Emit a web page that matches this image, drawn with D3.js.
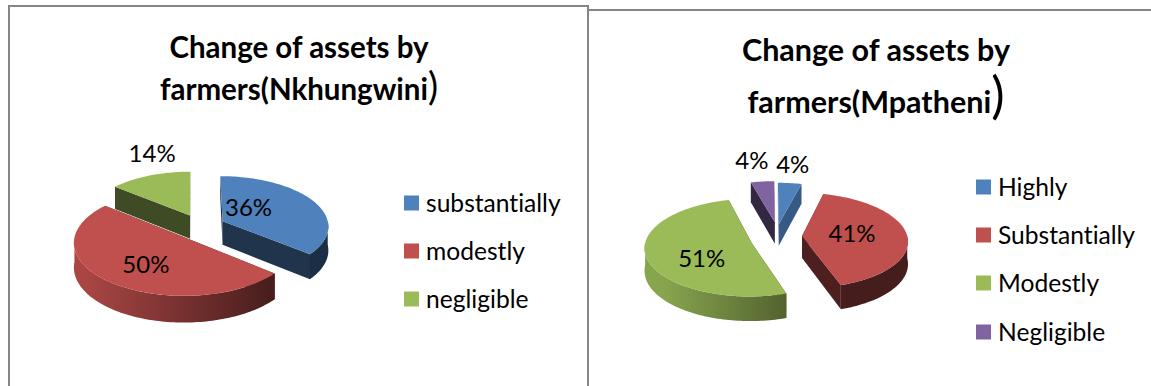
<!DOCTYPE html>
<html>
<head>
<meta charset="utf-8">
<script src="https://cdn.jsdelivr.net/npm/d3@7"></script>
<style>
html,body{margin:0;padding:0;background:#fff;overflow:hidden}
svg{display:block}
text{font-family:Lato,"Open Sans",sans-serif;fill:#000;font-variant-ligatures:none}
</style>
</head>
<body>
<svg id="c" width="1151" height="386"></svg>
<script>
// data
const leftCategories = ["substantially", "modestly", "negligible"];
const leftValues = [36, 50, 14];
const rightCategories = ["Highly", "Substantially", "Modestly", "Negligible"];
const rightValues = [4, 41, 51, 4];
const leftTitle = ["Change of assets by", "farmers(Nkhungwini"];
const rightTitle = ["Change of assets by", "farmers(Mpatheni"];
const leftColors = ["#4f81bd", "#c0504d", "#9bbb59"];
const rightColors = ["#4f81bd", "#c0504d", "#9bbb59", "#8064a2"];

// layout
const charts = [
  {
    id: "l", cats: leftCategories, vals: leftValues, cols: leftColors, title: leftTitle,
    cx: 194, cy: 230, R: 109, Rt: 51.5, persp: 0.09, depth: 24,
    offsets: [[29, -9], [-9, 7.5], [-4, -15]],
    radial: [0.98, 1, 0.97],
    cutShade: [0.4, 0.4, 0.4],
    labelNudge: [[26, -15], [-39, 26], [-38, -63]],
    titleX: 299, titleY: [57.5, 100], titleSize: 29.5, parenSize: 38,
    legendX: 404, legendY: [202, 250, 298], legendSize: 24.6
  },
  {
    id: "r", cats: rightCategories, vals: rightValues, cols: rightColors, title: rightTitle,
    cx: 768, cy: 235, R: 105, Rt: 47, persp: 0.09, depth: 22,
    offsets: [[11, -11], [34, 1], [-16, 8], [7, -13]],
    radial: [1, 1, 1, 1],
    cutShade: [0.7, 0.4, 0.4, 0.4],
    labelNudge: [[14, -61], [50, -4], [-50, 14], [-23, -63]],
    titleX: 876, titleY: [61, 113], titleSize: 30.5, parenSize: 50,
    legendX: 976, legendY: [186, 234, 282, 331], legendSize: 24.6
  }
];

const svg = d3.select("#c");
const defs = svg.append("defs");

// panel frames
const frame = "#868686";
svg.append("path").attr("d", d3.line()([[9, 386], [9, 6], [588, 6], [588, 386]]))
  .attr("fill", "none").attr("stroke", frame).attr("stroke-width", 2);
svg.append("path").attr("d", d3.line()([[589, 10], [1151, 10]]))
  .attr("fill", "none").attr("stroke", frame).attr("stroke-width", 2);

const pie = d3.pie().sort(null).value(d => d);
const line = d3.line();
const HALF = Math.PI / 2;

charts.forEach(ch => {
  const g = svg.append("g");
  const project = (i, a, r, z) => {
    const [ox, oy] = ch.offsets[i];
    const X = Math.sin(a) * r * ch.R * ch.radial[i];
    const Y = -Math.cos(a) * r * ch.Rt * ch.radial[i];
    const wy = oy + Y;
    const s = 1 / (1 - ch.persp * wy / ch.Rt);
    return [ch.cx + (ox + X) * s, ch.cy + wy * s + z * s];
  };
  const arcPts = (i, a0, a1, z) => {
    const n = Math.max(2, Math.ceil((a1 - a0) * 40));
    return d3.range(n + 1).map(k => project(i, a0 + (a1 - a0) * k / n, 1, z));
  };
  const slices = pie(ch.vals);
  // back slices first
  const order = d3.range(slices.length).sort((p, q) => ch.offsets[p][1] - ch.offsets[q][1]);

  order.forEach(i => {
    const s = slices[i], a = s.startAngle, b = s.endAngle, col = d3.rgb(ch.cols[i]);
    const dark = f => d3.rgb(col.r * f, col.g * f, col.b * f).formatHex();
    const gid = "w" + ch.id + i;
    const grad = defs.append("linearGradient").attr("id", gid)
      .attr("gradientUnits", "userSpaceOnUse")
      .attr("x1", ch.cx - ch.R).attr("x2", ch.cx + ch.R * 0.75).attr("y1", 0).attr("y2", 0);
    grad.append("stop").attr("offset", 0).attr("stop-color", dark(0.88));
    grad.append("stop").attr("offset", 1).attr("stop-color", dark(0.36));

    // radial cut faces
    [a, b].forEach(t => {
      const face = [project(i, t, 0, 0), project(i, t, 1, 0), project(i, t, 1, ch.depth), project(i, t, 0, ch.depth)];
      g.append("path").attr("d", line(face) + "Z").attr("fill", dark(ch.cutShade[i]));
    });
    // outer wall (only the part that faces the viewer)
    const w0 = Math.max(a, HALF), w1 = Math.min(b, 3 * HALF);
    if (w1 > w0) {
      const pts = arcPts(i, w0, w1, 0).concat(arcPts(i, w0, w1, ch.depth).reverse());
      g.append("path").attr("d", line(pts) + "Z").attr("fill", `url(#${gid})`);
    }
    // top face
    const top = [project(i, 0, 0, 0)].concat(arcPts(i, a, b, 0));
    g.append("path").attr("d", line(top) + "Z").attr("fill", ch.cols[i]);
  });

  // data labels
  slices.forEach((s, i) => {
    const p = project(i, 0, 0, 0);
    g.append("text").attr("x", p[0] + ch.labelNudge[i][0]).attr("y", p[1] + ch.labelNudge[i][1])
      .attr("text-anchor", "middle").attr("dominant-baseline", "central")
      .attr("font-size", 24).text(s.value + "%");
  });

  // title
  ch.title.forEach((t, k) => {
    const tx = g.append("text").attr("x", ch.titleX).attr("y", ch.titleY[k])
      .attr("text-anchor", "middle").attr("font-size", ch.titleSize).attr("font-weight", 700).text(t);
    if (k === 1) tx.append("tspan").attr("font-size", ch.parenSize).attr("font-weight", 400).text(")");
  });

  // legend
  ch.cats.forEach((c, i) => {
    const y = ch.legendY[i];
    g.append("rect").attr("x", ch.legendX).attr("y", y + 1 - 7.5).attr("width", 15).attr("height", 15).attr("fill", ch.cols[i]);
    g.append("text").attr("x", ch.legendX + 22).attr("y", y).attr("dominant-baseline", "central")
      .attr("font-size", ch.legendSize).text(c);
  });
});
</script>
</body>
</html>
